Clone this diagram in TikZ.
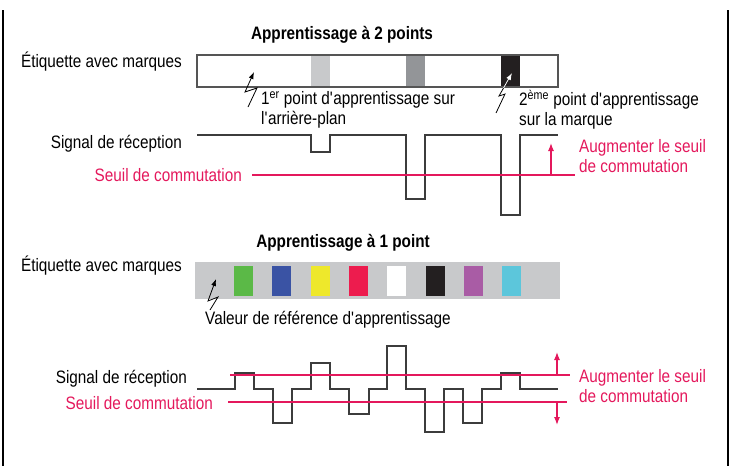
\documentclass[tikz,border=0pt]{standalone}
\usepackage{fontspec}
\setmainfont{Liberation Sans}[FakeStretch=0.85]
\usetikzlibrary{arrows.meta}
\newcommand{\apos}{\textquotesingle}
\definecolor{seuil}{RGB}{228,24,92}
\definecolor{sigcol}{RGB}{60,60,60}
\definecolor{bordgris}{RGB}{85,85,85}
\definecolor{grisclair}{RGB}{200,201,203}
\definecolor{grismoyen}{RGB}{147,149,152}
\definecolor{noir}{RGB}{35,31,32}
\definecolor{mvert}{RGB}{91,185,71}
\definecolor{mbleu}{RGB}{58,83,164}
\definecolor{mjaune}{RGB}{238,232,43}
\definecolor{mrouge}{RGB}{237,28,78}
\definecolor{mviolet}{RGB}{169,92,165}
\definecolor{mcyan}{RGB}{92,198,219}
\tikzstyle{lbl}=[inner sep=0, font=\fontsize{18}{20}\selectfont]
\tikzstyle{pinklbl}=[lbl, text=seuil]
\tikzstyle{ttl}=[inner sep=0, font=\fontsize{18}{20}\selectfont\bfseries]
\tikzstyle{sig}=[draw=sigcol, line width=1.4pt]
\tikzstyle{seuilline}=[draw=seuil, line width=1.2pt]
\tikzstyle{flash}=[line width=0.8pt, -{Latex[length=7pt,width=5pt]}]
\tikzstyle{seuilarrow}=[seuilline, -{Latex[length=8pt,width=6pt]}]
\begin{document}
\begin{tikzpicture}[x=1pt,y=-1pt]
\useasboundingbox (0,0) rectangle (735,466);
\draw[line width=1.2pt] (3,10) -- (3,466);
\draw[line width=1.2pt] (728,10) -- (728,466);
% apprentissage a 2 points
\node[ttl] (titre2) at (342,35) {Apprentissage à 2 points};
\node[lbl, anchor=east] (etiq2) at (182,62) {Étiquette avec marques};
\fill[white] (197,55) rectangle (558,87);
\fill[grisclair] (311,55) rectangle (330,87);
\fill[grismoyen] (406,55) rectangle (425,87);
\fill[noir] (501,55) rectangle (520,87);
\draw[draw=bordgris, line width=1.2pt] (197,55) rectangle (558,87);
\draw[flash] (248,107) -- (257,88) -- (245,92) -- (254,72);
\draw[flash] (496,113) -- (505,94) -- (499,96) -- (512,73);
\begin{scope}
\clip (501,55) rectangle (520,87);
\draw[flash, white] (496,113) -- (505,94) -- (499,96) -- (512,73);
\end{scope}
\node[lbl, anchor=west, align=left] (point1) at (261,110) {1\textsuperscript{er} point d\apos apprentissage sur\\l\apos arrière-plan};
\node[lbl, anchor=west, align=left] (point2) at (519,110) {2\textsuperscript{ème} point d\apos apprentissage\\sur la marque};
\node[lbl, anchor=east] (signal2) at (182,144) {Signal de réception};
\draw[sig] (197,135) -- (311,135) -- (311,152) -- (330,152) -- (330,135) -- (406,135) -- (406,199) -- (425,199) -- (425,135) -- (501,135) -- (501,215) -- (520,215) -- (520,135) -- (558,135);
\node[pinklbl, anchor=east] (seuil2) at (242,175) {Seuil de commutation};
\draw[seuilline] (252,175) -- (575,175);
\draw[seuilarrow] (551,175) -- (551,143);
\node[pinklbl, anchor=west, align=left] (augm2) at (579,156) {Augmenter le seuil\\de commutation};
% apprentissage a 1 point
\node[ttl] (titre1) at (343,243) {Apprentissage à 1 point};
\node[lbl, anchor=east] (etiq1) at (182,266) {Étiquette avec marques};
\fill[grisclair] (195,262) rectangle (560,299);
\foreach \c [count=\i from 0] in {mvert,mbleu,mjaune,mrouge,white,noir,mviolet,mcyan}
{
\fill[\c] ({234+38.3*\i},266) rectangle +(19,30);
}
\draw[flash] (210,310) -- (218,297) -- (208,301) -- (216,279);
\node[lbl, anchor=west] (valeur) at (205,320) {Valeur de référence d\apos apprentissage};
\node[lbl, anchor=east] (signal1) at (187,379) {Signal de réception};
\draw[sig] (197,389) -- (235,389) -- (235,373) -- (254,373) -- (254,389) -- (273,389) -- (273,423) -- (292,423) -- (292,389) -- (311,389) -- (311,363) -- (330,363) -- (330,389) -- (349,389) -- (349,414) -- (369,414) -- (369,389) -- (387,389) -- (387,346) -- (406,346) -- (406,389) -- (425,389) -- (425,432) -- (444,432) -- (444,389) -- (463,389) -- (463,423) -- (482,423) -- (482,389) -- (501,389) -- (501,373) -- (520,373) -- (520,389) -- (558,389);
\node[pinklbl, anchor=east] (seuil1) at (213,403) {Seuil de commutation};
\draw[seuilline] (230,375) -- (570,375);
\draw[seuilline] (228,402) -- (567,402);
\draw[seuilarrow] (557,375) -- (557,352);
\draw[seuilarrow] (557,402) -- (557,425);
\node[pinklbl, anchor=west, align=left] (augm1) at (579,386) {Augmenter le seuil\\de commutation};
\end{tikzpicture}
\end{document}
